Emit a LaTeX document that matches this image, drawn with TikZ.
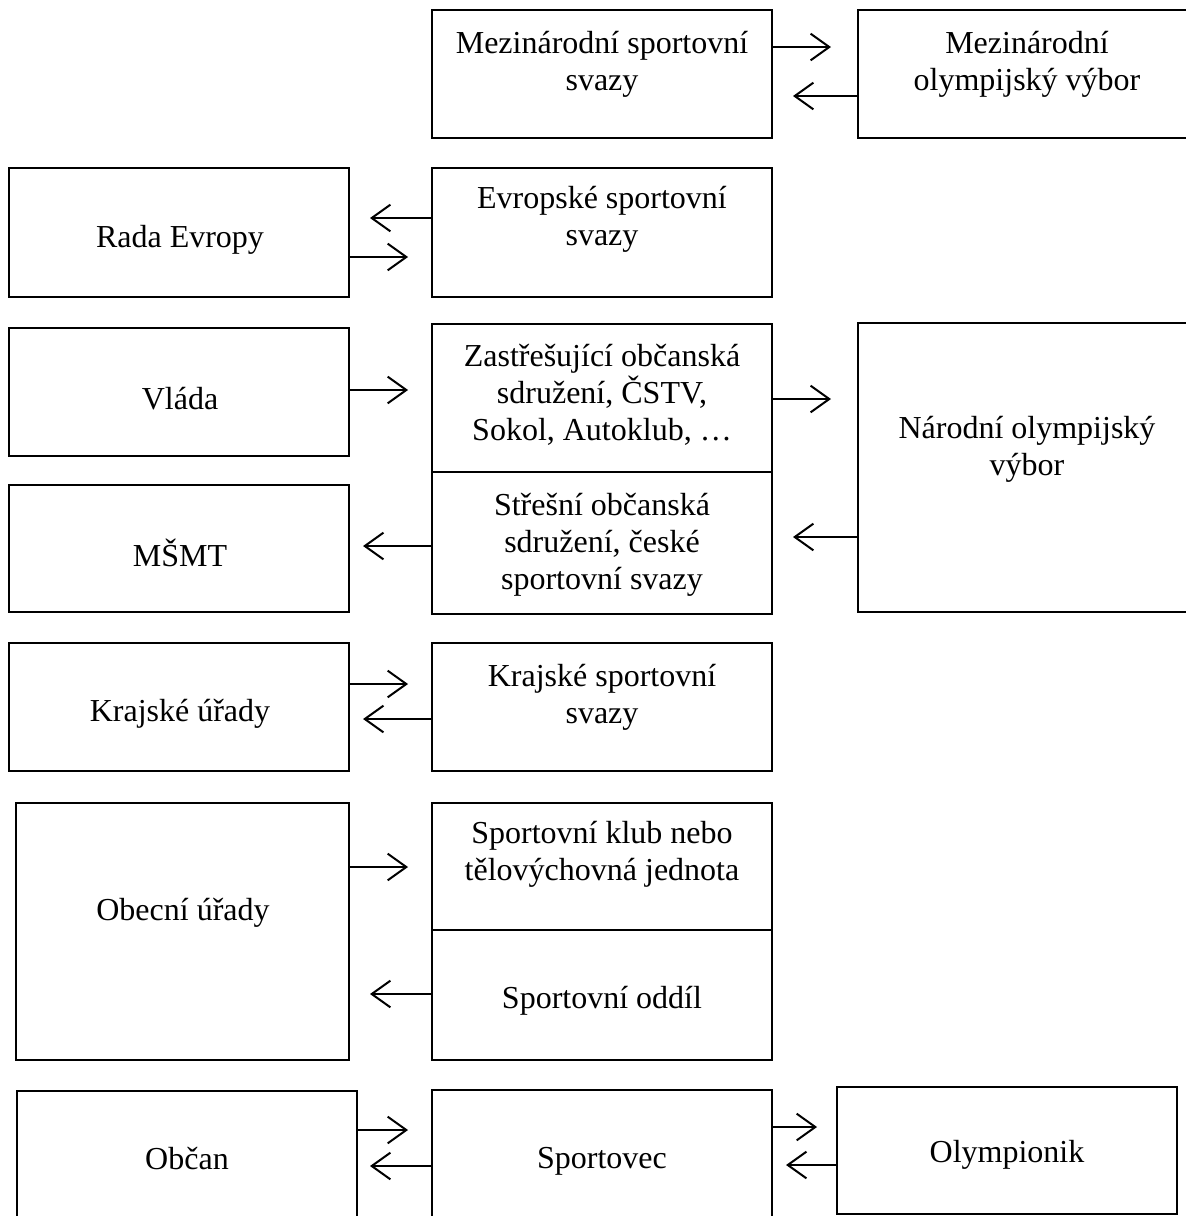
\documentclass[tikz,border=0pt]{standalone}
\usepackage{fontspec}
\setmainfont{Liberation Serif}
\usepackage{tikz}
\usetikzlibrary{arrows.meta,fit}

\begin{document}
\begin{tikzpicture}[x=0.375pt, y=-0.375pt, line width=0.75pt]
    \tikzstyle{box} = [rectangle, draw=black, inner sep=0pt]
    \tikzstyle{txt} = [align=center, inner sep=0pt, font=\fontsize{12}{13.8}\selectfont]
    \tikzstyle{arr} = [-{Straight Barb[length=7pt, width=10pt, line width=0.75pt]}]
    \useasboundingbox (0,0) rectangle (1186,1216);

    % International level
    \node [box, fit={(432,10) (772,138)}] (msvazy) {};
    \node [box, fit={(858,10) (1196,138)}] (mov) {};
    \node [txt] (msvazy_t) at (602,64) {Mezinárodní sportovní\\svazy};
    \node [txt] (mov_t) at (1027,64) {Mezinárodní\\olympijský výbor};

    % European level
    \node [box, fit={(9,168) (349,297)}] (rada) {};
    \node [box, fit={(432,168) (772,297)}] (esvazy) {};
    \node [txt] (rada_t) at (180,240) {Rada Evropy};
    \node [txt] (esvazy_t) at (602,219) {Evropské sportovní\\svazy};

    % National level
    \node [box, fit={(9,328) (349,456)}] (vlada) {};
    \node [box, fit={(432,324) (772,472)}] (zastr) {};
    \node [box, fit={(432,472) (772,614)}] (strech) {};
    \node [box, fit={(858,323) (1196,612)}] (nov) {};
    \node [box, fit={(9,485) (349,612)}] (msmt) {};
    \node [txt] (vlada_t) at (180,399) {Vláda};
    \node [txt] (zastr_t) at (602,395) {Zastřešující občanská\\sdružení, ČSTV,\\Sokol, Autoklub, …};
    \node [txt] (strech_t) at (602,545) {Střešní občanská\\sdružení, české\\sportovní svazy};
    \node [txt] (nov_t) at (1027,449) {Národní olympijský\\výbor};
    \node [txt] (msmt_t) at (180,553) {MŠMT};

    % Regional level
    \node [box, fit={(9,643) (349,771)}] (kraj) {};
    \node [box, fit={(432,643) (772,771)}] (ksvazy) {};
    \node [txt] (kraj_t) at (180,714) {Krajské úřady};
    \node [txt] (ksvazy_t) at (602,697) {Krajské sportovní\\svazy};

    % Local level
    \node [box, fit={(16,803) (349,1060)}] (obec) {};
    \node [box, fit={(432,803) (772,930)}] (klub) {};
    \node [box, fit={(432,930) (772,1060)}] (oddil) {};
    \node [txt] (obec_t) at (183,913) {Obecní úřady};
    \node [txt] (klub_t) at (602,854) {Sportovní klub nebo\\tělovýchovná jednota};
    \node [txt] (oddil_t) at (602,1001) {Sportovní oddíl};

    % Individuals
    \node [box, fit={(17,1091) (357,1226)}] (obcan) {};
    \node [box, fit={(432,1090) (772,1226)}] (sportovec) {};
    \node [box, fit={(837,1087) (1177,1214)}] (olymp) {};
    \node [txt] (obcan_t) at (187,1159) {Občan};
    \node [txt] (sportovec_t) at (602,1161) {Sportovec};
    \node [txt] (olymp_t) at (1007,1155) {Olympionik};

    % Arrows between the levels
    \draw [arr, shorten >=9.75pt] (msvazy.east |- 0,47) -- (mov.west |- 0,47);
    \draw [arr, shorten >=7.5pt] (mov.west |- 0,96) -- (msvazy.east |- 0,96);
    \draw [arr, shorten >=7.5pt] (esvazy.west |- 0,218) -- (rada.east |- 0,218);
    \draw [arr, shorten >=8.6pt] (rada.east |- 0,257) -- (esvazy.west |- 0,257);
    \draw [arr, shorten >=8.6pt] (vlada.east |- 0,390) -- (zastr.west |- 0,390);
    \draw [arr, shorten >=9.75pt] (zastr.east |- 0,399) -- (nov.west |- 0,399);
    \draw [arr, shorten >=7.5pt] (nov.west |- 0,537) -- (strech.east |- 0,537);
    \draw [arr, shorten >=4.9pt] (strech.west |- 0,546) -- (msmt.east |- 0,546);
    \draw [arr, shorten >=8.6pt] (kraj.east |- 0,684) -- (ksvazy.west |- 0,684);
    \draw [arr, shorten >=4.9pt] (ksvazy.west |- 0,719) -- (kraj.east |- 0,719);
    \draw [arr, shorten >=8.6pt] (obec.east |- 0,867) -- (klub.west |- 0,867);
    \draw [arr, shorten >=7.5pt] (oddil.west |- 0,994) -- (obec.east |- 0,994);
    \draw [arr, shorten >=8.6pt] (obcan.east |- 0,1130) -- (sportovec.west |- 0,1130);
    \draw [arr, shorten >=4.5pt] (sportovec.west |- 0,1166) -- (obcan.east |- 0,1166);
    \draw [arr, shorten >=7.1pt] (sportovec.east |- 0,1127) -- (olymp.west |- 0,1127);
    \draw [arr, shorten >=4.9pt] (olymp.west |- 0,1165) -- (sportovec.east |- 0,1165);
\end{tikzpicture}
\end{document}
